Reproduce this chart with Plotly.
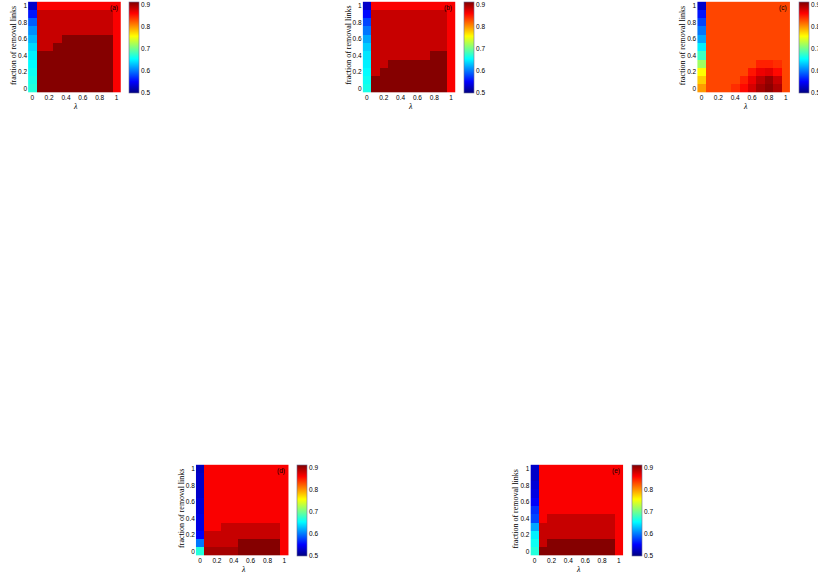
import plotly.graph_objects as go

W, H = 818, 576

# ---------------- data ----------------
lam = [0, 0.1, 0.2, 0.3, 0.4, 0.5, 0.6, 0.7, 0.8, 0.9, 1.0]      # λ (x)
frac = [0, 0.1, 0.2, 0.3, 0.4, 0.5, 0.6, 0.7, 0.8, 0.9, 1.0]     # fraction of removal links (y)
tick_vals = [0, 0.2, 0.4, 0.6, 0.8, 1]
cbar_ticks = [0.5, 0.6, 0.7, 0.8, 0.9]
panel_labels = ["(a)", "(b)", "(c)", "(d)", "(e)"]
z_min, z_max = 0.5, 0.915

# rows: fraction 0 -> 1 ; columns: λ 0 -> 1
z_a = [
    [0.670, 0.913, 0.913, 0.913, 0.913, 0.913, 0.913, 0.913, 0.913, 0.913, 0.865],
    [0.665, 0.913, 0.913, 0.913, 0.913, 0.913, 0.913, 0.913, 0.913, 0.913, 0.865],
    [0.660, 0.913, 0.913, 0.913, 0.913, 0.913, 0.913, 0.913, 0.913, 0.913, 0.865],
    [0.655, 0.913, 0.913, 0.913, 0.913, 0.913, 0.913, 0.913, 0.913, 0.913, 0.865],
    [0.650, 0.913, 0.913, 0.913, 0.913, 0.913, 0.913, 0.913, 0.913, 0.913, 0.865],
    [0.640, 0.886, 0.886, 0.913, 0.913, 0.913, 0.913, 0.913, 0.913, 0.913, 0.865],
    [0.625, 0.886, 0.886, 0.886, 0.913, 0.913, 0.913, 0.913, 0.913, 0.913, 0.865],
    [0.610, 0.886, 0.886, 0.886, 0.886, 0.886, 0.886, 0.886, 0.886, 0.886, 0.865],
    [0.590, 0.886, 0.886, 0.886, 0.886, 0.886, 0.886, 0.886, 0.886, 0.886, 0.865],
    [0.560, 0.886, 0.886, 0.886, 0.886, 0.886, 0.886, 0.886, 0.886, 0.886, 0.865],
    [0.530, 0.865, 0.865, 0.865, 0.865, 0.865, 0.865, 0.865, 0.865, 0.865, 0.865],
]
z_b = [
    [0.665, 0.913, 0.913, 0.913, 0.913, 0.913, 0.913, 0.913, 0.913, 0.913, 0.865],
    [0.660, 0.913, 0.913, 0.913, 0.913, 0.913, 0.913, 0.913, 0.913, 0.913, 0.865],
    [0.655, 0.886, 0.913, 0.913, 0.913, 0.913, 0.913, 0.913, 0.913, 0.913, 0.865],
    [0.650, 0.886, 0.886, 0.913, 0.913, 0.913, 0.913, 0.913, 0.913, 0.913, 0.865],
    [0.645, 0.886, 0.886, 0.886, 0.886, 0.886, 0.886, 0.886, 0.913, 0.913, 0.865],
    [0.635, 0.886, 0.886, 0.886, 0.886, 0.886, 0.886, 0.886, 0.886, 0.886, 0.865],
    [0.620, 0.886, 0.886, 0.886, 0.886, 0.886, 0.886, 0.886, 0.886, 0.886, 0.865],
    [0.600, 0.886, 0.886, 0.886, 0.886, 0.886, 0.886, 0.886, 0.886, 0.886, 0.865],
    [0.580, 0.886, 0.886, 0.886, 0.886, 0.886, 0.886, 0.886, 0.886, 0.886, 0.865],
    [0.555, 0.886, 0.886, 0.886, 0.886, 0.886, 0.886, 0.886, 0.886, 0.886, 0.865],
    [0.530, 0.865, 0.865, 0.865, 0.865, 0.865, 0.865, 0.865, 0.865, 0.865, 0.865],
]
z_c = [
    [0.800, 0.835, 0.835, 0.835, 0.845, 0.860, 0.880, 0.900, 0.910, 0.895, 0.835],
    [0.780, 0.835, 0.835, 0.835, 0.835, 0.850, 0.870, 0.890, 0.905, 0.885, 0.835],
    [0.760, 0.835, 0.835, 0.835, 0.835, 0.835, 0.855, 0.870, 0.875, 0.860, 0.835],
    [0.720, 0.835, 0.835, 0.835, 0.835, 0.835, 0.835, 0.850, 0.850, 0.845, 0.835],
    [0.680, 0.835, 0.835, 0.835, 0.835, 0.835, 0.835, 0.835, 0.835, 0.835, 0.835],
    [0.650, 0.835, 0.835, 0.835, 0.835, 0.835, 0.835, 0.835, 0.835, 0.835, 0.835],
    [0.620, 0.835, 0.835, 0.835, 0.835, 0.835, 0.835, 0.835, 0.835, 0.835, 0.835],
    [0.600, 0.835, 0.835, 0.835, 0.835, 0.835, 0.835, 0.835, 0.835, 0.835, 0.835],
    [0.580, 0.835, 0.835, 0.835, 0.835, 0.835, 0.835, 0.835, 0.835, 0.835, 0.835],
    [0.560, 0.835, 0.835, 0.835, 0.835, 0.835, 0.835, 0.835, 0.835, 0.835, 0.835],
    [0.530, 0.835, 0.835, 0.835, 0.835, 0.835, 0.835, 0.835, 0.835, 0.835, 0.835],
]
z_d = [
    [0.670, 0.900, 0.900, 0.900, 0.900, 0.913, 0.913, 0.913, 0.913, 0.913, 0.865],
    [0.600, 0.886, 0.886, 0.886, 0.886, 0.913, 0.913, 0.913, 0.913, 0.913, 0.865],
    [0.550, 0.886, 0.886, 0.886, 0.886, 0.886, 0.886, 0.886, 0.886, 0.886, 0.865],
    [0.540, 0.865, 0.865, 0.886, 0.886, 0.886, 0.886, 0.886, 0.886, 0.886, 0.865],
    [0.540, 0.865, 0.865, 0.865, 0.865, 0.865, 0.865, 0.865, 0.865, 0.865, 0.865],
    [0.535, 0.865, 0.865, 0.865, 0.865, 0.865, 0.865, 0.865, 0.865, 0.865, 0.865],
    [0.535, 0.865, 0.865, 0.865, 0.865, 0.865, 0.865, 0.865, 0.865, 0.865, 0.865],
    [0.530, 0.865, 0.865, 0.865, 0.865, 0.865, 0.865, 0.865, 0.865, 0.865, 0.865],
    [0.530, 0.865, 0.865, 0.865, 0.865, 0.865, 0.865, 0.865, 0.865, 0.865, 0.865],
    [0.530, 0.865, 0.865, 0.865, 0.865, 0.865, 0.865, 0.865, 0.865, 0.865, 0.865],
    [0.525, 0.865, 0.865, 0.865, 0.865, 0.865, 0.865, 0.865, 0.865, 0.865, 0.865],
]
z_e = [
    [0.670, 0.913, 0.913, 0.913, 0.913, 0.913, 0.913, 0.913, 0.913, 0.913, 0.865],
    [0.660, 0.886, 0.913, 0.913, 0.913, 0.913, 0.913, 0.913, 0.913, 0.913, 0.865],
    [0.650, 0.886, 0.886, 0.886, 0.886, 0.886, 0.886, 0.886, 0.886, 0.886, 0.865],
    [0.620, 0.886, 0.886, 0.886, 0.886, 0.886, 0.886, 0.886, 0.886, 0.886, 0.865],
    [0.580, 0.865, 0.886, 0.886, 0.886, 0.886, 0.886, 0.886, 0.886, 0.886, 0.865],
    [0.570, 0.865, 0.865, 0.865, 0.865, 0.865, 0.865, 0.865, 0.865, 0.865, 0.865],
    [0.550, 0.865, 0.865, 0.865, 0.865, 0.865, 0.865, 0.865, 0.865, 0.865, 0.865],
    [0.540, 0.865, 0.865, 0.865, 0.865, 0.865, 0.865, 0.865, 0.865, 0.865, 0.865],
    [0.535, 0.865, 0.865, 0.865, 0.865, 0.865, 0.865, 0.865, 0.865, 0.865, 0.865],
    [0.530, 0.865, 0.865, 0.865, 0.865, 0.865, 0.865, 0.865, 0.865, 0.865, 0.865],
    [0.530, 0.865, 0.865, 0.865, 0.865, 0.865, 0.865, 0.865, 0.865, 0.865, 0.865],
]
panels = [z_a, z_b, z_c, z_d, z_e]

# ---------------- style / layout ----------------
jet = [
    [0.0, "rgb(0,0,128)"],
    [0.125, "rgb(0,0,255)"],
    [0.375, "rgb(0,255,255)"],
    [0.625, "rgb(255,255,0)"],
    [0.875, "rgb(255,0,0)"],
    [1.0, "rgb(128,0,0)"],
]
offsets = [(0, 0), (335, 0), (670, 0), (168, 463), (503, 463)]
PL, PR, PT, PB = 28.1, 120.9, 1.6, 92.4     # plot area in px (panel a)
CL, CW, CT, CB = 129.3, 9.7, 1.6, 93.0      # colorbar in px (panel a)
sans = "Liberation Sans, Arial, sans-serif"
serif = "Liberation Serif, Times New Roman, serif"
FS = 6.5

fig = go.Figure()
layout = dict(
    width=W, height=H, margin=dict(l=0, r=0, t=0, b=0),
    paper_bgcolor="white", plot_bgcolor="white", showlegend=False,
)
annotations = []

for i, (z, (dx, dy)) in enumerate(zip(panels, offsets)):
    n = "" if i == 0 else str(i + 1)
    xa, ya = "x" + n, "y" + n
    fig.add_trace(go.Heatmap(
        x=lam, y=frac, z=z, xaxis=xa, yaxis=ya,
        colorscale=jet, zmin=z_min, zmax=z_max, zsmooth=False,
        hoverinfo="skip",
        colorbar=dict(
            x=(CL + dx) / W, xanchor="left", xpad=0,
            y=1 - (CT + dy) / H, yanchor="top", ypad=0,
            len=(CB - CT) / H, lenmode="fraction",
            thickness=CW, thicknessmode="pixels",
            tickvals=cbar_ticks, ticks="", tickfont=dict(family=sans, size=FS, color="black"),
            outlinewidth=0.6, outlinecolor="rgb(110,110,150)",
        ),
    ))
    axcommon = dict(showgrid=False, zeroline=False, showline=False, ticks="",
                    tickvals=tick_vals, tickfont=dict(family=sans, size=FS, color="black"),
                    range=[-0.05, 1.05], fixedrange=True)
    layout["xaxis" + n] = dict(axcommon, domain=[(PL + dx) / W, (PR + dx) / W], anchor=ya)
    layout["yaxis" + n] = dict(axcommon, domain=[1 - (PB + dy) / H, 1 - (PT + dy) / H], anchor=xa)

    annotations.append(dict(
        text="fraction of removal links", xref="paper", yref="paper",
        x=(PL + dx - 14.5) / W, y=1 - (45.5 + dy) / H, textangle=-90,
        xanchor="center", yanchor="middle", showarrow=False,
        font=dict(family=serif, size=8, color="black"),
    ))
    annotations.append(dict(
        text="<i>λ</i>", xref="paper", yref="paper",
        x=(76 + dx) / W, y=1 - (106.5 + dy) / H,
        xanchor="center", yanchor="middle", showarrow=False,
        font=dict(family=serif, size=8, color="black"),
    ))
    annotations.append(dict(
        text=panel_labels[i], xref=xa, yref=ya, x=0.965, y=0.97,
        xanchor="center", yanchor="middle", showarrow=False,
        font=dict(family=sans, size=FS, color="black"),
    ))

layout["annotations"] = annotations
fig.update_layout(**layout)
fig.write_html(
    "out.html",
    config={"displayModeBar": False},
    post_script="document.body.style.margin='0';document.body.style.overflow='hidden';",
)
